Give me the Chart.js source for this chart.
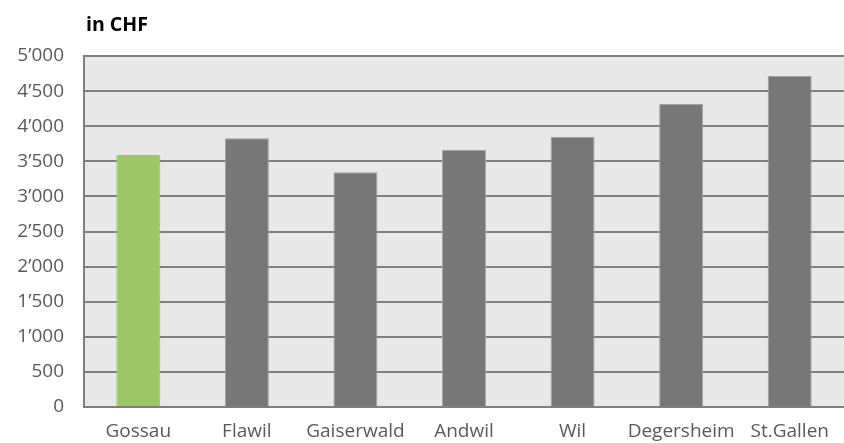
<!DOCTYPE html>
<html>
<head>
<meta charset="utf-8">
<script src="https://cdn.jsdelivr.net/npm/chart.js@4"></script>
<style>
    html, body { margin: 0; padding: 0; background: #fff; }
    #wrap { width: 844px; height: 443px; position: relative; }
</style>
</head>
<body>
<div id="wrap"><canvas id="costChart"></canvas></div>
<script>
// Values (CHF)
const towns = ['Gossau', 'Flawil', 'Gaiserwald', 'Andwil', 'Wil', 'Degersheim', 'St.Gallen'];
const costs = [3590, 3827, 3343, 3665, 3850, 4316, 4715];
const barColors = ['#9bc764', '#777777', '#777777', '#777777', '#777777', '#777777', '#777777'];
const yMin = 0;
const yMax = 5000;
const yStep = 500;

const FONT = '"Open Sans", "DejaVu Sans", sans-serif';

// light grey plot background + "in CHF" heading
const plotDecor = {
    id: 'plotDecor',
    beforeDraw(chart) {
        const { ctx, chartArea } = chart;
        ctx.save();
        ctx.fillStyle = '#e8e8e8';
        ctx.fillRect(chartArea.left, chartArea.top, chartArea.right - chartArea.left, chartArea.bottom - chartArea.top);
        ctx.restore();
    },
    afterDraw(chart) {
        const { ctx, chartArea } = chart;
        ctx.save();
        ctx.fillStyle = '#000';
        ctx.font = 'bold 19.5px ' + FONT;
        ctx.textBaseline = 'middle';
        ctx.textAlign = 'left';
        ctx.fillText('in CHF', chartArea.left + 2, 25);
        ctx.restore();
    }
};

function swissFormat(v) {
    if (v < 1000) return String(v);
    return Math.floor(v / 1000) + '\u2019' + String(v % 1000).padStart(3, '0');
}

const ctx = document.getElementById('costChart').getContext('2d');
new Chart(ctx, {
    type: 'bar',
    data: {
        labels: towns,
        datasets: [{
            data: costs,
            backgroundColor: barColors,
            borderColor: barColors.map(c => c === '#777777' ? '#a3a3a3' : c),
            borderWidth: 1,
            categoryPercentage: 1,
            barPercentage: 0.405
        }]
    },
    options: {
        responsive: true,
        maintainAspectRatio: false,
        animation: false,
        layout: { padding: { top: 56, right: 0, left: 0, bottom: 0 } },
        plugins: {
            legend: { display: false },
            tooltip: { enabled: false }
        },
        scales: {
            x: {
                afterFit: (scale) => { scale.height = 36; },
                grid: { display: false, drawTicks: false },
                border: { display: true, color: '#7f7f7f', width: 2 },
                ticks: {
                    color: '#595959',
                    padding: 13,
                    autoSkip: false,
                    maxRotation: 0,
                    minRotation: 0,
                    font: { family: FONT, size: 19 }
                }
            },
            y: {
                min: yMin,
                max: yMax,
                afterFit: (scale) => { scale.width = 84; },
                grid: { color: '#7f7f7f', lineWidth: 2, drawTicks: false },
                border: { display: true, color: '#7f7f7f', width: 2 },
                ticks: {
                    stepSize: yStep,
                    color: '#595959',
                    padding: 20,
                    font: { family: FONT, size: 19 },
                    callback: (v) => swissFormat(v)
                }
            }
        }
    },
    plugins: [plotDecor]
});
</script>
</body>
</html>
